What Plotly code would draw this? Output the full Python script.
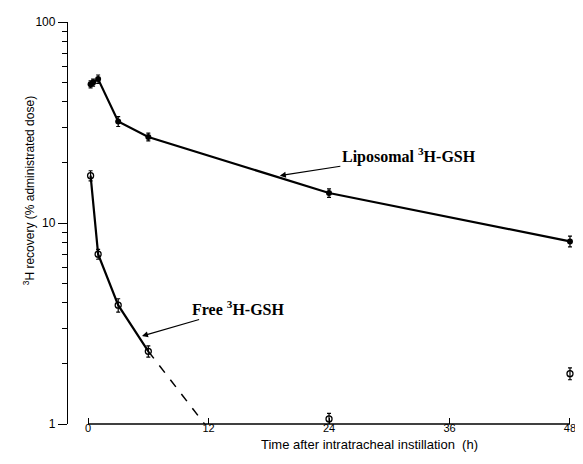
import math
import plotly.graph_objects as go

# Data (time in h, recovery in % administered dose)
lipo_t = [0.25, 0.5, 1, 3, 6, 24, 48]
lipo_v = [49, 50, 52, 32, 26.8, 14.1, 8.1]
lipo_err = [2, 2, 2.5, 1.8, 1.2, 0.7, 0.5]

free_t = [0.25, 1, 3, 6, 24, 48]
free_v = [17.2, 7.0, 3.9, 2.3, 1.06, 1.78]
free_err = [1.0, 0.4, 0.3, 0.15, 0.07, 0.12]

free_extrap_t = [6, 11.6]
free_extrap_v = [2.3, 1.0]

x_ticks = [0, 12, 24, 36, 48]
y_ticks = [1, 10, 100]
y_minor = [2, 3, 4, 5, 6, 7, 8, 9, 20, 30, 40, 50, 60, 70, 80, 90]

SANS = "Arial, Liberation Sans, sans-serif"
SERIF = "Liberation Serif, Times New Roman, serif"

fig = go.Figure()

fig.add_trace(go.Scatter(
    x=lipo_t, y=lipo_v, mode="lines+markers",
    line=dict(color="black", width=2.2),
    marker=dict(symbol="circle", size=6, color="black"),
    error_y=dict(type="data", array=lipo_err, color="black", thickness=1.2, width=2),
    cliponaxis=False, showlegend=False))

fig.add_trace(go.Scatter(
    x=free_t[:4], y=free_v[:4], mode="lines",
    line=dict(color="black", width=2.2),
    cliponaxis=False, showlegend=False))

fig.add_trace(go.Scatter(
    x=free_extrap_t, y=free_extrap_v, mode="lines",
    line=dict(color="black", width=1.5, dash="dash"),
    cliponaxis=False, showlegend=False))

fig.add_trace(go.Scatter(
    x=free_t, y=free_v, mode="markers",
    marker=dict(symbol="circle-open", size=6, color="black", line=dict(width=1.3)),
    error_y=dict(type="data", array=free_err, color="black", thickness=1.2, width=2),
    cliponaxis=False, showlegend=False))

# x axis line drawn from 0 to 48 only (detached from y axis)
fig.add_shape(type="line", xref="x", yref="paper", x0=x_ticks[0], x1=x_ticks[-1],
              y0=0, y1=0, line=dict(color="black", width=1.3))

fig.add_annotation(x=19.1, y=math.log10(17.2), xref="x", yref="y", ax=129, ay=-20,
                   text="<b>Liposomal <sup>3</sup>H-GSH</b>", showarrow=True,
                   arrowhead=2, arrowsize=1, arrowwidth=1.2, arrowcolor="black",
                   font=dict(family=SERIF, size=16, color="black"))
fig.add_annotation(x=5.37, y=math.log10(2.74), xref="x", yref="y", ax=97, ay=-28,
                   text="<b>Free <sup>3</sup>H-GSH</b>", showarrow=True,
                   arrowhead=2, arrowsize=1, arrowwidth=1.2, arrowcolor="black",
                   font=dict(family=SERIF, size=16, color="black"))

fig.add_annotation(x=-0.095, y=0.581, xref="paper", yref="paper", textangle=-90,
                   text="<sup>3</sup>H recovery (% administrated dose)", showarrow=False,
                   font=dict(family=SANS, size=12, color="black"))

fig.add_annotation(x=28.0, y=-0.052, xref="x", yref="paper", yanchor="middle",
                   text="Time after intratracheal instillation\u00a0\u00a0(h)", showarrow=False,
                   font=dict(family=SANS, size=13, color="black"))

fig.update_layout(
    width=575, height=456,
    margin=dict(l=60, r=7, t=10, b=40),
    paper_bgcolor="white", plot_bgcolor="white",
    font=dict(family=SANS, size=12, color="black"),
    xaxis=dict(range=[-2, 48.5], tickvals=x_ticks, ticktext=[str(v) for v in x_ticks],
               ticks="inside", ticklen=6, tickwidth=1.2, tickcolor="black",
               ticklabelstandoff=-4, tickfont=dict(family=SANS, size=11, color="black"),
               showline=False, showgrid=False, zeroline=False),
    yaxis=dict(type="log", range=[0, 2], tickvals=y_ticks, ticktext=[str(v) for v in y_ticks],
               ticks="outside", ticklen=9, tickwidth=1.2, tickcolor="black",
               tickfont=dict(family=SANS, size=12, color="black"),
               minor=dict(tickvals=y_minor, ticks="outside", ticklen=5, tickwidth=1, tickcolor="black"),
               showline=True, linecolor="black", linewidth=1.3,
               showgrid=False, zeroline=False),
)

fig.write_html("out.html")
